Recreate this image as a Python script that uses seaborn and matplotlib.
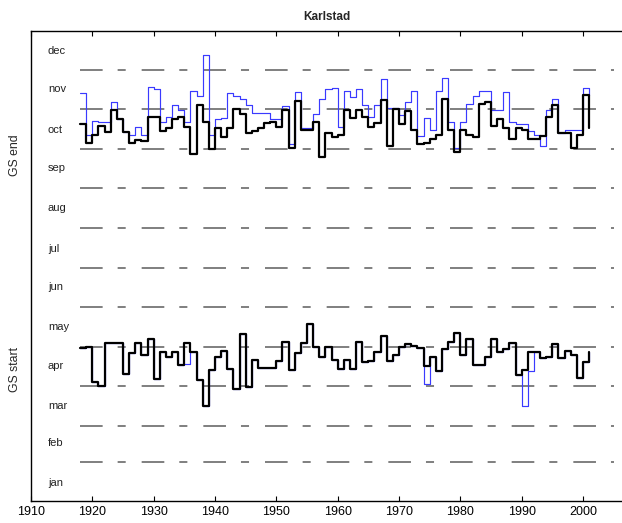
import matplotlib
matplotlib.use("Agg")
import matplotlib.pyplot as plt
import seaborn as sns

# Growing-season dates for Karlstad, day of year, 1918-2001
years = list(range(1918, 2002))

gs_end_black = [293, 279,
                285, 292, 287, 304, 297, 287, 279, 281, 280, 299,
                299, 288, 290, 297, 299, 291, 270, 308, 295, 274,
                290, 283, 290, 305, 301, 286, 288, 290, 294, 295,
                291, 304, 275, 311, 289, 289, 295, 268, 286, 283,
                285, 304, 298, 304, 299, 291, 294, 312, 276, 305,
                293, 303, 289, 278, 279, 282, 285, 313, 289, 272,
                289, 285, 283, 309, 310, 292, 297, 290, 282, 290,
                289, 282, 282, 284, 299, 308, 286, 286, 275, 285,
                316, 290]

gs_end_blue = [317, 285,
               296, 295, 295, 310, 297, 287, 285, 291, 285, 322,
               320, 295, 299, 308, 304, 295, 319, 315, 347, 285,
               297, 298, 317, 315, 313, 308, 302, 302, 302, 297,
               297, 307, 278, 318, 290, 290, 301, 313, 320, 321,
               291, 319, 314, 320, 308, 299, 308, 328, 306, 306,
               300, 310, 319, 284, 298, 289, 319, 329, 295, 275,
               295, 309, 315, 319, 319, 304, 304, 318, 295, 293,
               293, 288, 285, 276, 304, 313, 286, 289, 289, 289,
               321, 316]

gs_start_black = [120, 121,
                  94, 91, 124, 124, 124, 100, 116, 124, 115, 127,
                  96, 117, 113, 117, 107, 124, 117, 95, 75, 103,
                  113, 118, 104, 88, 131, 90, 111, 105, 105, 105,
                  110, 125, 103, 116, 124, 139, 121, 113, 121, 111,
                  104, 111, 104, 125, 109, 110, 117, 129, 110, 115,
                  121, 123, 122, 120, 106, 113, 102, 119, 125, 132,
                  115, 127, 107, 107, 113, 127, 117, 119, 124, 99,
                  103, 117, 117, 112, 113, 123, 112, 118, 115, 97,
                  109, 117]

gs_start_blue = [120, 121,
                 94, 91, 124, 124, 124, 100, 116, 124, 115, 127,
                 96, 117, 113, 117, 107, 108, 117, 95, 75, 103,
                 113, 118, 104, 88, 131, 90, 111, 105, 105, 105,
                 110, 125, 103, 116, 124, 139, 121, 113, 121, 111,
                 104, 111, 104, 125, 109, 110, 117, 129, 110, 115,
                 121, 123, 122, 120, 92, 113, 102, 119, 125, 132,
                 115, 127, 107, 107, 113, 127, 117, 119, 124, 99,
                 75, 102, 117, 112, 113, 123, 112, 118, 115, 97,
                 109, 117]

month_names = ["jan", "feb", "mar", "apr", "may", "jun",
               "jul", "aug", "sep", "oct", "nov", "dec"]
month_starts = [1, 32, 60, 91, 121, 152, 182, 213, 244, 274, 305, 335]
decade_ticks = [1910, 1920, 1930, 1940, 1950, 1960, 1970, 1980, 1990, 2000]

sns.set_style("white")
plt.rcParams["font.family"] = ["Liberation Sans", "DejaVu Sans"]
plt.rcParams["lines.scale_dashes"] = False

W, H = 622, 523
fig = plt.figure(figsize=(W / 100, H / 100), dpi=100)
ax = fig.add_axes([31 / W, (H - 500.7) / H, (W - 31) / W, 469.4 / H])

# month boundaries as long-short dashed rules
for d in month_starts[1:]:
    ax.plot([1918, 2005], [d, d], color="#5c5c5c", lw=1.1,
            linestyle=(0, (16.3, 10.8, 5.8, 11.5)), zorder=1)

# month names in the middle of each month
for name, start in zip(month_names, month_starts):
    ax.text(1912.75, start + 15, name, ha="left", va="center",
            fontsize=8, color="#222222")

series = [
    (gs_end_blue, "#3a3aff", 0.85),
    (gs_start_blue, "#3a3aff", 0.85),
    (gs_end_black, "black", 1.6),
    (gs_start_black, "black", 1.6),
]
for vals, color, lw in series:
    sns.lineplot(x=years, y=vals, ax=ax, drawstyle="steps-post",
                 color=color, lw=lw, estimator=None, legend=False,
                 zorder=3)

ax.set_xlim(1910, 1910 + (W - 31) / 6.1333)
ax.set_ylim(2, 365)
ax.set_xticks(decade_ticks)
ax.set_xticklabels([str(t) for t in decade_ticks])
ax.set_yticks([])
ax.set_xlabel("")
ax.set_ylabel("")
ax.tick_params(axis="x", direction="in", top=True, bottom=True,
               length=3.6, width=0.8, labelsize=9, pad=4, colors="black")
for side in ["left", "bottom", "top"]:
    ax.spines[side].set_color("black")
    ax.spines[side].set_linewidth(1.0)
ax.spines["right"].set_visible(False)

ax.set_title("Karlstad", fontweight="bold", fontsize=8.5, pad=8)

fig.text(15 / W, 1 - 155 / H, "GS end", rotation=90, ha="center",
         va="center", fontsize=8.8)
fig.text(15 / W, 1 - 370 / H, "GS start", rotation=90, ha="center",
         va="center", fontsize=8.8)

fig.savefig("out.png", dpi=100)
